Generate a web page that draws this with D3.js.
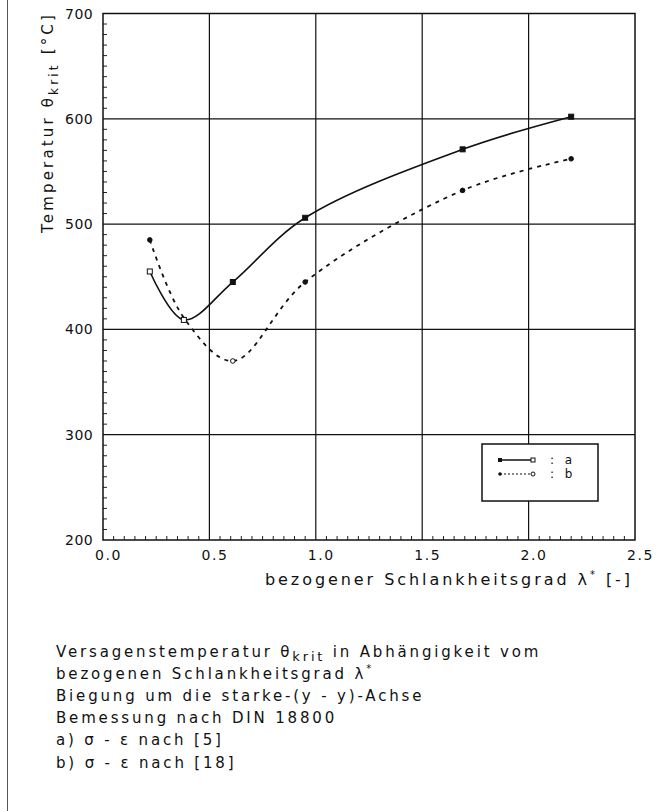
<!DOCTYPE html>
<html>
<head>
<meta charset="utf-8">
<script src="https://cdn.jsdelivr.net/npm/d3@7"></script>
<style>
  html, body { margin: 0; padding: 0; background: #fff; }
  svg { display: block; }
  text { font-family: "DejaVu Sans", sans-serif; fill: #111; }
</style>
</head>
<body>
<svg id="chart" width="656" height="811"></svg>
<script>
// Slenderness values (lambda*) and critical temperatures for the two curves
const lambda = [0.22, 0.38, 0.61, 0.95, 1.69, 2.20];
const tempA = [455, 409, 445, 506, 571, 602];
const tempB = [485, 411, 370, 445, 532, 562];
// marker kind drawn at each point of a curve
const markA = ["open", "open", "filled", "filled", "filled", "filled"];
const markB = ["filled", "none", "open", "filled", "filled", "filled"];

const xTicks = [0.0, 0.5, 1.0, 1.5, 2.0, 2.5];
const yTicks = [200, 300, 400, 500, 600, 700];
const legendLabels = ["a", "b"];
const captionLines = [
  ["Versagenstemperatur θ", "krit", " in Abhängigkeit vom"],
  ["bezogenen Schlankheitsgrad λ", "*", ""],
  ["Biegung um die starke-(y - y)-Achse"],
  ["Bemessung nach DIN 18800"],
  ["a) σ - ε nach [5]"],
  ["b) σ - ε nach [18]"]
];

const svg = d3.select("#chart");
svg.append("rect").attr("width", 656).attr("height", 811).attr("fill", "#fff");

// page margin rule on the left
svg.append("line").attr("x1", 7.5).attr("x2", 7.5).attr("y1", 0).attr("y2", 811)
  .attr("stroke", "#555").attr("stroke-width", 1);

const x = d3.scaleLinear().domain([0, 2.5]).range([103, 635]);
const y = d3.scaleLinear().domain([200, 700]).range([540, 13.5]);

// spread a text's letters so it spans a given width; returns the spacing used
function fitWidth(sel, width) {
  const node = sel.node();
  const n = node.textContent.length;
  const w = node.getComputedTextLength();
  const ls = (width - w) / n;
  sel.attr("letter-spacing", ls.toFixed(2));
  return ls;
}

// grid
const grid = svg.append("g").attr("stroke", "#111").attr("stroke-width", 1.2);
grid.selectAll(".gx").data(xTicks.slice(1, -1)).join("line")
  .attr("x1", d => x(d)).attr("x2", d => x(d)).attr("y1", y(700)).attr("y2", y(200));
grid.selectAll(".gy").data(yTicks.slice(1, -1)).join("line")
  .attr("x1", x(0)).attr("x2", x(2.5)).attr("y1", d => y(d)).attr("y2", d => y(d));

// minor ticks pointing into the plot
const yMinor = d3.range(210, 700, 10).filter(v => v % 100 !== 0);
const xMinor = d3.range(1, 50).map(i => i * 0.05).filter((v, i) => (i + 1) % 10 !== 0);
const ticks = svg.append("g").attr("stroke", "#222").attr("stroke-width", 1);
ticks.selectAll(".ty").data(yMinor).join("line")
  .attr("x1", x(0)).attr("x2", x(0) + 4).attr("y1", d => y(d)).attr("y2", d => y(d));
ticks.selectAll(".tx").data(xMinor).join("line")
  .attr("x1", d => x(d)).attr("x2", d => x(d)).attr("y1", y(200)).attr("y2", y(200) - 4);

// frame
svg.append("rect").attr("x", x(0)).attr("y", y(700))
  .attr("width", x(2.5) - x(0)).attr("height", y(200) - y(700))
  .attr("fill", "none").attr("stroke", "#111").attr("stroke-width", 1.5);

// tick labels
svg.selectAll(".yl").data(yTicks).join("text")
  .attr("x", x(0) - 10).attr("y", d => y(d) + 5)
  .attr("text-anchor", "end").attr("font-size", 14)
  .attr("letter-spacing", 0.4)
  .text(d => d);
svg.selectAll(".xl").data(xTicks).join("text")
  .attr("x", d => x(d) - 8).attr("y", 560)
  .attr("font-size", 14)
  .text(d => d3.format(".1f")(d))
  .each(function () { fitWidth(d3.select(this), 27); });

// axis titles
const xt = svg.append("text").attr("x", 265).attr("y", 585).attr("font-size", 16);
xt.append("tspan").text("bezogener Schlankheitsgrad λ");
xt.append("tspan").attr("dy", -7).attr("font-size", 10).text("*");
xt.append("tspan").attr("dy", 7).text(" [-]");
fitWidth(xt, 368);

const yt = svg.append("text").attr("transform", "translate(53,233) rotate(-90)").attr("font-size", 15);
yt.append("tspan").text("Temperatur θ");
yt.append("tspan").attr("dy", 5).attr("font-size", 12).text("krit");
yt.append("tspan").attr("dy", -5).text(" [°C]");
fitWidth(yt, 221);

// curves
const line = d3.line().x(d => x(d[0])).y(d => y(d[1])).curve(d3.curveCatmullRom.alpha(0.5));
const ptsA = lambda.map((l, i) => [l, tempA[i]]);
const ptsB = lambda.map((l, i) => [l, tempB[i]]);

svg.append("path").attr("d", line(ptsA)).attr("fill", "none")
  .attr("stroke", "#111").attr("stroke-width", 1.6);
svg.append("path").attr("d", line(ptsB)).attr("fill", "none")
  .attr("stroke", "#111").attr("stroke-width", 1.8).attr("stroke-dasharray", "4,5");

// markers
function markerData(pts, kinds) {
  return pts.map((p, i) => ({ p, k: kinds[i] })).filter(d => d.k !== "none");
}
svg.append("g").selectAll("rect").data(markerData(ptsA, markA)).join("rect")
  .attr("x", d => x(d.p[0]) - 2.5).attr("y", d => y(d.p[1]) - 2.5)
  .attr("width", 5).attr("height", 5)
  .attr("fill", d => d.k === "filled" ? "#111" : "#fff")
  .attr("stroke", "#111").attr("stroke-width", 1);
svg.append("g").selectAll("circle").data(markerData(ptsB, markB)).join("circle")
  .attr("cx", d => x(d.p[0])).attr("cy", d => y(d.p[1]))
  .attr("r", 2.3)
  .attr("fill", d => d.k === "filled" ? "#111" : "#fff")
  .attr("stroke", "#111").attr("stroke-width", 1);

// legend
const lg = svg.append("g");
lg.append("rect").attr("x", 482).attr("y", 444).attr("width", 116).attr("height", 57)
  .attr("fill", "#fff").attr("stroke", "#111").attr("stroke-width", 1.5);
const rows = [
  { y: 460, dash: null, kind: "sq" },
  { y: 474, dash: "2,2", kind: "dot" }
];
rows.forEach((r, i) => {
  lg.append("line").attr("x1", 500).attr("x2", 533).attr("y1", r.y).attr("y2", r.y)
    .attr("stroke", "#111").attr("stroke-width", r.dash ? 1 : 1.6)
    .attr("stroke-dasharray", r.dash);
  if (r.kind === "sq") {
    lg.append("rect").attr("x", 498).attr("y", r.y - 2).attr("width", 4).attr("height", 4).attr("fill", "#111");
    lg.append("rect").attr("x", 531).attr("y", r.y - 2).attr("width", 4).attr("height", 4)
      .attr("fill", "#fff").attr("stroke", "#111").attr("stroke-width", 1);
  } else {
    lg.append("circle").attr("cx", 500).attr("cy", r.y).attr("r", 1.8).attr("fill", "#111");
    lg.append("circle").attr("cx", 533).attr("cy", r.y).attr("r", 2).attr("fill", "#fff")
      .attr("stroke", "#111").attr("stroke-width", 1);
  }
  lg.append("text").attr("x", 550).attr("y", r.y + 4).attr("font-size", 12)
    .attr("letter-spacing", 3.5).text(": " + legendLabels[i]);
});

// caption
const cap = svg.append("g").attr("font-size", 15);
let capSpacing = null;
captionLines.forEach((parts, i) => {
  const t = cap.append("text").attr("x", 56).attr("y", 657 + i * 22.1);
  t.append("tspan").text(parts[0]);
  if (parts.length > 1) {
    const sup = parts[1] === "*";
    t.append("tspan").attr("dy", sup ? -7 : 4).attr("font-size", sup ? 10 : 13).text(parts[1]);
    if (parts[2]) t.append("tspan").attr("dy", sup ? 7 : -4).text(parts[2]);
  }
  if (capSpacing === null) capSpacing = fitWidth(t, 485);
  else t.attr("letter-spacing", capSpacing.toFixed(2));
});
</script>
</body>
</html>
